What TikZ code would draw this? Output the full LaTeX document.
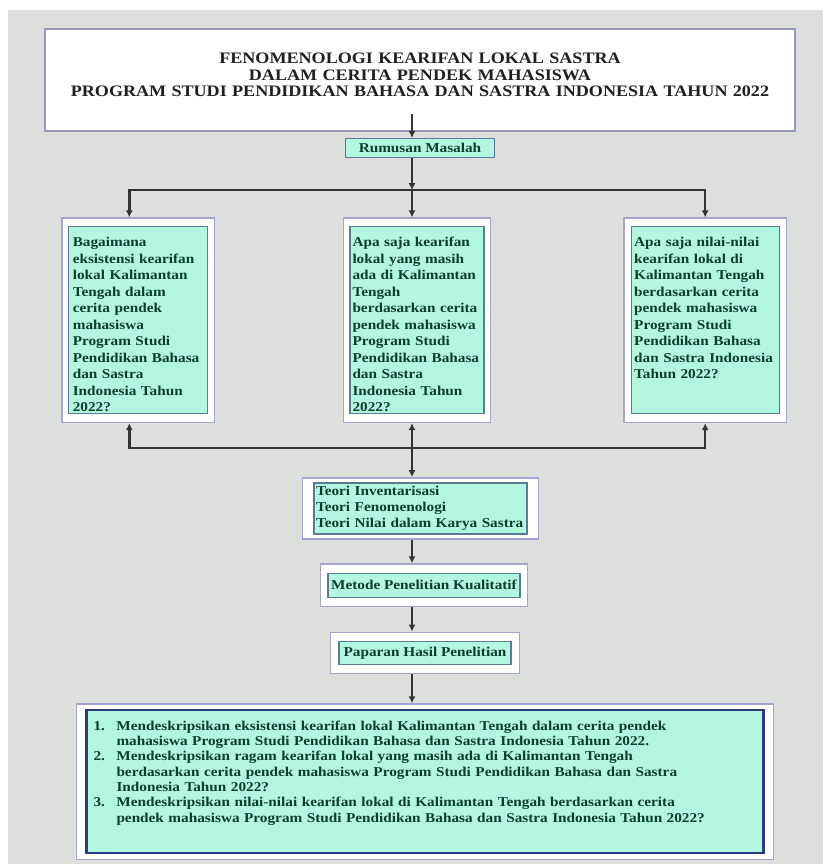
\documentclass[tikz,border=0pt]{standalone}
\usepackage{fontspec}
\setmainfont{Liberation Serif}[FakeStretch=1.13]
\usetikzlibrary{
  arrows.meta,
  positioning,
  fit,
  backgrounds,
  calc
}
\definecolor{pagegray}{HTML}{DCDFDC}
\definecolor{framecol}{HTML}{A4A4D2}
\definecolor{headcol}{HTML}{9898BC}
\definecolor{aqua}{HTML}{B4F7E1}
\definecolor{innercol}{HTML}{5A7B96}
\definecolor{navycol}{HTML}{2B3D80}
\definecolor{txtgreen}{HTML}{0B3D2E}
\definecolor{linecol}{HTML}{333333}
\tikzset{
  headbox/.style  = {draw=headcol, line width=2pt, fill=white, align=center,
                     text width=740pt, inner xsep=5pt, inner ysep=4pt,
                     text height=31pt, text depth=63pt, text=black!88,
                     font=\fontsize{16}{16.5}\selectfont\bfseries},
  inbox/.style    = {draw=innercol, line width=1.2pt, fill=aqua, text=txtgreen,
                     font=\fontsize{13.5}{16.5}\selectfont\bfseries},
  qbox/.style     = {inbox, align=left, inner xsep=3pt, inner ysep=5pt,
                     text height=15pt, text depth=162pt},
  aimbox/.style   = {inbox, draw=navycol, line width=2.4pt, align=left,
                     text width=663pt, inner xsep=7pt, inner ysep=4pt,
                     text height=16pt, text depth=119pt,
                     font=\fontsize{13.5}{15.3}\selectfont\bfseries},
  frame/.style    = {draw=framecol, line width=1.5pt, fill=white},
  arrow/.style    = {-{Latex[length=7pt,width=7pt]}, line width=2.4pt, draw=linecol},
  dblarrow/.style = {{Latex[length=7pt,width=7pt]}-{Latex[length=7pt,width=7pt]},
                     line width=2.4pt, draw=linecol},
}
\begin{document}
\begin{tikzpicture}[x=1pt, y=1pt]
\useasboundingbox (0,0) rectangle (823,-864);

\node[headbox] (title) at (420,-80)
  {FENOMENOLOGI KEARIFAN LOKAL SASTRA\\
   DALAM CERITA PENDEK MAHASISWA\\
   PROGRAM STUDI PENDIDIKAN BAHASA DAN SASTRA INDONESIA TAHUN 2022};

\node[inbox, below=6pt of title, minimum width=149pt, minimum height=19pt,
      inner sep=2pt] (rumusan) {Rumusan Masalah};

\node[qbox, text width=129pt, inner xsep=2.5pt, below=68pt of rumusan, xshift=-3pt] (q2)
  {Apa saja kearifan\\ lokal yang masih\\ ada di Kalimantan\\ Tengah\\
   berdasarkan cerita\\ pendek mahasiswa\\ Program Studi\\ Pendidikan Bahasa\\
   dan Sastra\\ Indonesia Tahun\\ 2022?};
\node[qbox, text width=131pt, inner xsep=4pt, left=141pt of q2] (q1)
  {Bagaimana\\ eksistensi kearifan\\ lokal Kalimantan\\ Tengah dalam\\
   cerita pendek\\ mahasiswa\\ Program Studi\\ Pendidikan Bahasa\\
   dan Sastra\\ Indonesia Tahun\\ 2022?};
\node[qbox, text width=142pt, right=146pt of q2] (q3)
  {Apa saja nilai-nilai\\ kearifan lokal di\\ Kalimantan Tengah\\
   berdasarkan cerita\\ pendek mahasiswa\\ Program Studi\\ Pendidikan Bahasa\\
   dan Sastra Indonesia\\ Tahun 2022?};

\node[inbox, align=left, text width=209pt, inner xsep=2pt, inner ysep=2pt,
      minimum height=51pt, font=\fontsize{13.5}{16}\selectfont\bfseries,
      below=68pt of q2, xshift=3.5pt] (teori)
  {Teori Inventarisasi\\ Teori Fenomenologi\\ Teori Nilai dalam Karya Sastra};
\node[inbox, minimum width=192pt, minimum height=24pt, inner sep=2pt,
      below=38pt of teori, xshift=3.5pt] (metode) {Metode Penelitian Kualitatif};
\node[inbox, minimum width=172pt, minimum height=23pt, inner sep=2pt,
      below=43pt of metode, xshift=1pt] (paparan) {Paparan Hasil Penelitian};

\node[aimbox, below=44pt of paparan] (tujuan)
  {\begin{tabular}[t]{@{}p{17pt}@{\hspace{6pt}}l@{}}
   1. & Mendeskripsikan eksistensi kearifan lokal Kalimantan Tengah dalam cerita pendek\\
      & mahasiswa Program Studi Pendidikan Bahasa dan Sastra Indonesia Tahun 2022.\\
   2. & Mendeskripsikan ragam kearifan lokal yang masih ada di Kalimantan Tengah\\
      & berdasarkan cerita pendek mahasiswa Program Studi Pendidikan Bahasa dan Sastra\\
      & Indonesia Tahun 2022?\\
   3. & Mendeskripsikan nilai-nilai kearifan lokal di Kalimantan Tengah berdasarkan cerita\\
      & pendek mahasiswa Program Studi Pendidikan Bahasa dan Sastra Indonesia Tahun 2022?
   \end{tabular}};

\begin{scope}[on background layer]
  \fill[white] (0,0) rectangle (823,-864);
  \fill[pagegray] (8,-10) rectangle (823,-864);
  \foreach \n/\px/\py in {q1/6/8, q2/6/8, q3/6.5/8, teori/11/4.5,
                          metode/7/8.5, paparan/8/8.5, tujuan/9/5}
    \node[frame, fit=(\n), inner xsep=\px pt, inner ysep=\py pt] (\n-f) {};
\end{scope}

\coordinate (spine) at (412,0);
\coordinate (t-out) at ($(title.south -| spine)+(0,18)$);
\coordinate (split) at ($(rumusan.south -| spine)+(0,-32)$);
\coordinate (merge) at ($(q2-f.south -| spine)+(0,-25)$);

\draw[arrow] (t-out) -- (rumusan.north -| spine);
\draw[arrow] (rumusan.south -| spine) -- (split);
\draw[arrow] (split) -| ([xshift=-9pt]q1-f.north);
\draw[arrow] (split) -- (q2-f.north -| spine);
\draw[arrow] (split) -| (q3-f.north);
\draw[arrow] (merge) -| ([xshift=-9pt]q1-f.south);
\draw[arrow] (merge) -| (q3-f.south);
\draw[dblarrow] (q2-f.south -| spine) -- (teori-f.north -| spine);
\draw[arrow] (teori-f.south -| spine) -- (metode-f.north -| spine);
\draw[arrow] (metode-f.south -| spine) -- (paparan-f.north -| spine);
\draw[arrow] (paparan-f.south -| spine) -- (tujuan-f.north -| spine);
\end{tikzpicture}
\end{document}
